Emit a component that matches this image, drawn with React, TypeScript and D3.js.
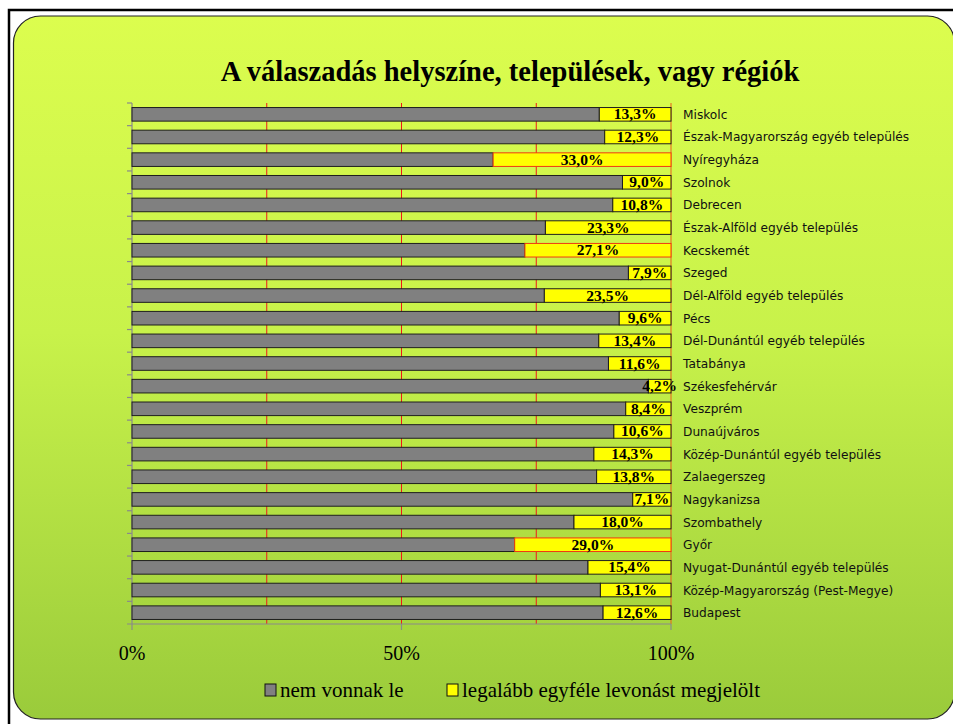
import React from "react";
import * as d3 from "d3";

const W = 953;
const H = 724;

const TITLE = "A válaszadás helyszíne, települések, vagy régiók";

const categories = [
  "Miskolc",
  "Észak-Magyarország egyéb település",
  "Nyíregyháza",
  "Szolnok",
  "Debrecen",
  "Észak-Alföld egyéb település",
  "Kecskemét",
  "Szeged",
  "Dél-Alföld egyéb település",
  "Pécs",
  "Dél-Dunántúl egyéb település",
  "Tatabánya",
  "Székesfehérvár",
  "Veszprém",
  "Dunaújváros",
  "Közép-Dunántúl egyéb település",
  "Zalaegerszeg",
  "Nagykanizsa",
  "Szombathely",
  "Győr",
  "Nyugat-Dunántúl egyéb település",
  "Közép-Magyarország (Pest-Megye)",
  "Budapest",
];

// "legalább egyféle levonást megjelölt" share, %
const deducted = [
  13.3, 12.3, 33.0, 9.0, 10.8, 23.3, 27.1, 7.9, 23.5, 9.6, 13.4, 11.6, 4.2, 8.4,
  10.6, 14.3, 13.8, 7.1, 18.0, 29.0, 15.4, 13.1, 12.6,
];
// "nem vonnak le" share, %
const notDeducted = deducted.map((d) => 100 - d);

const highlighted = ["Nyíregyháza", "Kecskemét", "Győr"];

const seriesNames = ["nem vonnak le", "legalább egyféle levonást megjelölt"];
const xTicks = [0, 50, 100];
const xGrid = [25, 50, 75, 100];

const PLOT = { left: 132, right: 671, top: 103, bottom: 624 };

const fmt = (v: number) => d3.format(".1f")(v).replace(".", ",") + "%";

export default function App() {
  const x = d3.scaleLinear().domain([0, 100]).range([PLOT.left, PLOT.right]);
  const y = d3
    .scaleBand<string>()
    .domain(categories)
    .range([PLOT.top, PLOT.bottom])
    .paddingInner(0.4)
    .paddingOuter(0.2);

  const bands = d3
    .scaleBand<string>()
    .domain(categories)
    .range([PLOT.top, PLOT.bottom]);

  const bh = y.bandwidth();

  return (
    <svg
      width={W}
      height={H}
      style={{ position: "absolute", left: 0, top: 0 }}
    >
      <defs>
        <linearGradient id="bg" x1="0" y1="0" x2="0" y2="1">
          <stop offset="0%" stopColor="#dcfd4e" />
          <stop offset="45%" stopColor="#c8f24a" />
          <stop offset="100%" stopColor="#9acb3b" />
        </linearGradient>
      </defs>
      <rect x={0} y={0} width={W} height={H} fill="#fff" />
      <rect
        x={9}
        y={10}
        width={980}
        height={740}
        fill="#fff"
        stroke="#000"
        strokeWidth={2.5}
      />
      <rect
        x={13.5}
        y={16}
        width={941}
        height={703}
        rx={27}
        fill="url(#bg)"
        stroke="#222"
        strokeWidth={1.2}
      />

      <text
        x={510}
        y={81}
        textAnchor="middle"
        fontFamily="'Liberation Serif', serif"
        fontWeight="bold"
        fontSize={28.5}
        fill="#000"
      >
        {TITLE}
      </text>

      {/* gridlines */}
      {xGrid.map((t) => (
        <line
          key={t}
          x1={x(t)}
          x2={x(t)}
          y1={PLOT.top}
          y2={PLOT.bottom}
          stroke={t === 100 ? "#e8601c" : "#f01818"}
          strokeWidth={1}
        />
      ))}

      {/* left axis */}
      <line
        x1={PLOT.left}
        x2={PLOT.left}
        y1={PLOT.top}
        y2={PLOT.bottom}
        stroke="#8a8a8a"
        strokeWidth={1.2}
      />
      {categories.map((c) => (
        <line
          key={c}
          x1={PLOT.left - 5}
          x2={PLOT.left}
          y1={bands(c)!}
          y2={bands(c)!}
          stroke="#8a8a8a"
          strokeWidth={1.2}
        />
      ))}

      {/* bars */}
      {categories.map((c, i) => {
        const y0 = y(c)!;
        const split = x(notDeducted[i]);
        const hl = highlighted.includes(c);
        return (
          <g key={c}>
            <rect
              x={x(0)}
              y={y0}
              width={split - x(0)}
              height={bh}
              fill="#808080"
              stroke="#1e1e1e"
              strokeWidth={1}
            />
            <rect
              x={split}
              y={y0}
              width={x(100) - split}
              height={bh}
              fill="#ffff00"
              stroke={hl ? "#f03a10" : "#1e1e1e"}
              strokeWidth={1}
            />
            <text
              x={(split + x(100)) / 2}
              y={y0 + bh / 2 + 5}
              textAnchor="middle"
              fontFamily="'Liberation Serif', serif"
              fontWeight="bold"
              fontSize={15.5}
              fill="#000"
            >
              {fmt(deducted[i])}
            </text>
            <text
              x={683}
              y={y0 + bh / 2 + 4.5}
              fontFamily="'DejaVu Sans', sans-serif"
              fontSize={12.2}
              fill="#111"
            >
              {c}
            </text>
          </g>
        );
      })}

      {/* bottom axis */}
      <line
        x1={PLOT.left - 5}
        x2={PLOT.right}
        y1={PLOT.bottom}
        y2={PLOT.bottom}
        stroke="#8a8a8a"
        strokeWidth={1.2}
      />
      {xTicks.map((t) => (
        <g key={t}>
          <line
            x1={x(t)}
            x2={x(t)}
            y1={PLOT.bottom}
            y2={PLOT.bottom + 6}
            stroke="#8a8a8a"
            strokeWidth={1.2}
          />
          <text
            x={x(t)}
            y={660}
            textAnchor="middle"
            fontFamily="'Liberation Serif', serif"
            fontSize={20}
            fill="#000"
          >
            {t + "%"}
          </text>
        </g>
      ))}

      {/* legend */}
      {seriesNames.map((s, i) => {
        const lx = i === 0 ? 265 : 447;
        return (
          <g key={s}>
            <rect
              x={lx}
              y={684}
              width={11}
              height={12}
              fill={i === 0 ? "#808080" : "#ffff00"}
              stroke="#111"
              strokeWidth={1}
            />
            <text
              x={lx + 15}
              y={697}
              fontFamily="'Liberation Serif', serif"
              fontSize={21}
              fill="#000"
            >
              {s}
            </text>
          </g>
        );
      })}
    </svg>
  );
}
